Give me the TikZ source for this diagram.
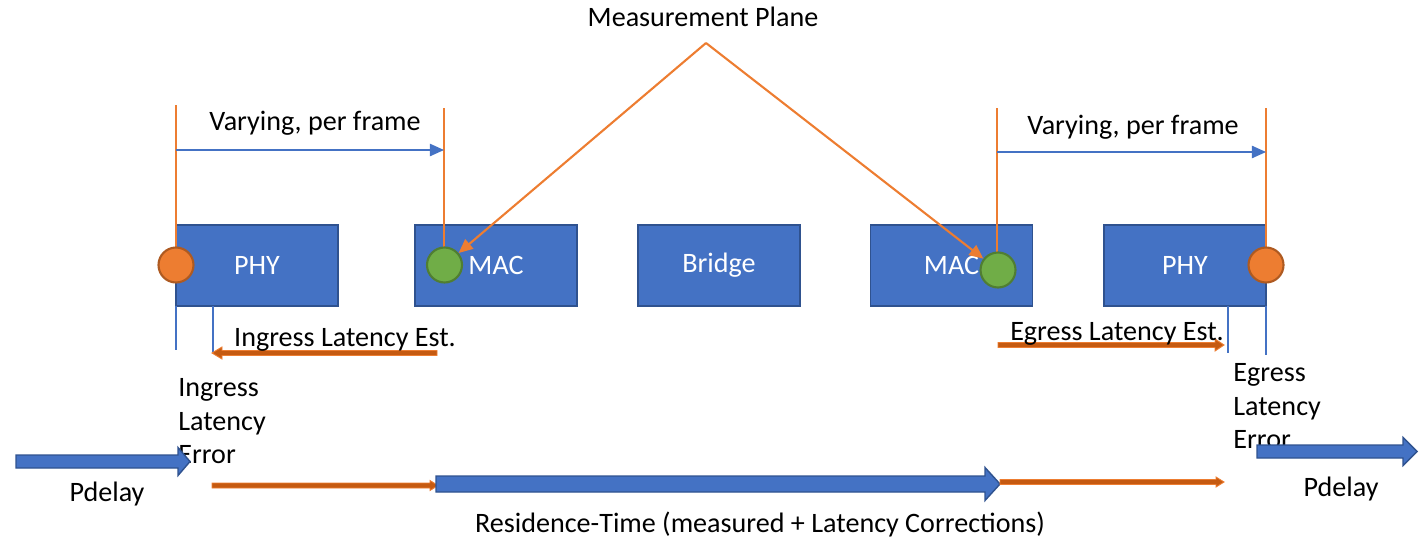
\documentclass[tikz,border=0pt]{standalone}
\usepackage{fontspec}
\setmainfont{Carlito}
\usetikzlibrary{arrows.meta}
\definecolor{boxblue}{HTML}{4472C4}
\definecolor{boxedge}{HTML}{2F528F}
\definecolor{accent}{HTML}{ED7D31}
\definecolor{accentedge}{HTML}{AE5A21}
\definecolor{rust}{HTML}{C55A11}
\definecolor{leaf}{HTML}{70AD47}
\definecolor{leafedge}{HTML}{507E32}

% horizontal block arrow: style, x start, x tip, y, half shaft, half head, head length
\newcommand\blockarrow[7]{%
  \filldraw[#1] (#2,#4-#5) -- (#3-#7,#4-#5) -- (#3-#7,#4-#6) -- (#3,#4)
    -- (#3-#7,#4+#6) -- (#3-#7,#4+#5) -- (#2,#4+#5) -- cycle;}

\begin{document}
\begin{tikzpicture}[x=0.02cm,y=-0.02cm,
  font=\fontsize{16}{19}\selectfont,
  unit/.style={draw=boxedge, fill=boxblue, line width=1pt, rectangle,
    minimum width=3.24cm, minimum height=1.62cm, text=white, inner sep=0pt},
  phydot/.style={circle, fill=accent, draw=accentedge, line width=1.2pt,
    minimum size=0.7cm, inner sep=0pt},
  macdot/.style={circle, fill=leaf, draw=leafedge, line width=1.2pt,
    minimum size=0.7cm, inner sep=0pt},
  label/.style={inner sep=0pt},
  plane/.style={draw=accent, line width=0.8pt},
  span/.style={draw=boxblue, line width=0.8pt, -{Triangle[length=8pt,width=7pt]}},
  tick/.style={draw=boxblue, line width=0.8pt},
  pointer/.style={draw=accent, line width=1.2pt, -{Triangle[length=8pt,width=7pt]}},
  bigarrow/.style={fill=boxblue, draw=boxedge, line width=0.8pt},
  corr/.style={fill=rust, draw=accent, line width=0.5pt},
]
\useasboundingbox (0,0) rectangle (1422,541);

% functional blocks
\node[unit] (phyA) at (257,265.5) {PHY};
\node[unit] (macA) at (496,265.5) {MAC};
\node[unit] (bridge) at (719,265.5) {Bridge};
\node[unit] (macB) at (951.5,265.5) {MAC};
\node[unit] (phyB) at (1185,265.5) {PHY};

% plane guide lines from the top
\coordinate (topA) at (176,105);
\coordinate (topB) at (444,108);
\coordinate (topC) at (997,108);
\coordinate (topD) at (1266,108);
\draw[plane] (topA) -- (176,250);
\draw[plane] (topB) -- (444,252);
\draw[plane] (topC) -- (997,256);
\draw[plane] (topD) -- (1266,250);

% timestamp points
\node[phydot] (tsA) at (176,265) {};
\node[macdot] (tsB) at (444.5,265) {};
\node[macdot] (tsC) at (998,270) {};
\node[phydot] (tsD) at (1266,265) {};

% varying spans
\coordinate (vA1) at (176,150);
\coordinate (vA2) at (444,150);
\coordinate (vB1) at (997,152);
\coordinate (vB2) at (1266,152);
\draw[span] (vA1) -- (vA2);
\draw[span] (vB1) -- (vB2);
\node[label] (varyA) at (315,123) {Varying, per frame};
\node[label] (varyB) at (1133,127) {Varying, per frame};

% measurement plane pointers
\node[label] (plane) at (703,17) {Measurement Plane};
\coordinate (apex) at (706,43);
\draw[pointer] (apex) -- (tsB);
\draw[pointer] (apex) -- (tsC);

% thin reference ticks below the PHYs
\coordinate (kA1) at (176,306); \coordinate (kA1e) at (176,350);
\coordinate (kA2) at (213,306); \coordinate (kA2e) at (213,352);
\coordinate (kB1) at (1228,306); \coordinate (kB1e) at (1228,353);
\coordinate (kB2) at (1266,306); \coordinate (kB2e) at (1266,355);
\draw[tick] (kA1) -- (kA1e);
\draw[tick] (kA2) -- (kA2e);
\draw[tick] (kB1) -- (kB1e);
\draw[tick] (kB2) -- (kB2e);

% latency estimates
\filldraw[corr] (437,350.5) -- (222,350.5) -- (222,347) -- (212,353) -- (222,359) -- (222,355.5) -- (437,355.5) -- cycle;
\node[label] (ingEst) at (345,340) {Ingress Latency Est.};
\blockarrow{corr}{998}{1224}{345}{2.5}{6}{9}
\node[label] (egEst) at (1117,334) {Egress Latency Est.};

% latency error labels
\node[label, anchor=north west, align=left] (ingErr) at (178,378.5) {Ingress\\Latency\\Error};
\node[label, anchor=north west, align=left] (egErr) at (1233,363.5) {Egress\\Latency\\Error};

% timing bar
\blockarrow{bigarrow}{16}{190}{461.5}{6.5}{14}{12}
\node[label] (pdA) at (107,494) {Pdelay};
\blockarrow{corr}{212}{438}{485.5}{2.5}{5}{8}
\blockarrow{bigarrow}{436}{1000}{484}{8}{16.5}{15}
\blockarrow{corr}{1000}{1224}{482}{2.5}{5}{8}
\blockarrow{bigarrow}{1257}{1417}{451.5}{6.5}{14}{14}
\node[label] (pdB) at (1341,489) {Pdelay};
\node[label] (res) at (760,524) {Residence-Time (measured + Latency Corrections)};
\end{tikzpicture}
\end{document}
